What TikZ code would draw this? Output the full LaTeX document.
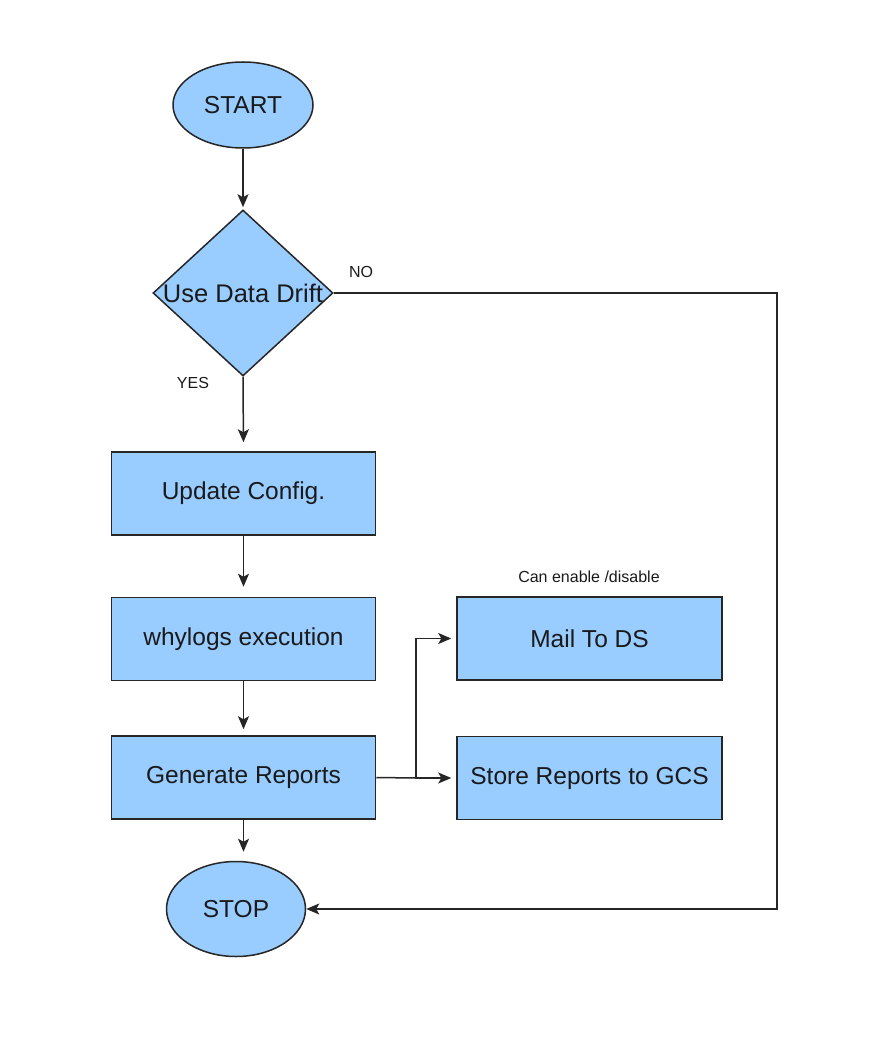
\documentclass[tikz,border=0pt]{standalone}
\usepackage{fontspec}
\setmainfont{Liberation Sans}
\usetikzlibrary{shapes.geometric,arrows.meta}
\definecolor{boxfill}{HTML}{99CCFF}
\definecolor{edgecol}{HTML}{262626}
\definecolor{txtcol}{HTML}{1A1A1A}
\tikzset{
  base/.style={draw=edgecol, line width=1.5pt, fill=boxfill, text=txtcol, font=\fontsize{24.5}{28}\selectfont, inner sep=0pt},
  terminal/.style={base, ellipse},
  decision/.style={base, diamond, minimum width=180pt, minimum height=166pt},
  procbox/.style={base, rectangle, minimum width=264pt, minimum height=83pt},
  conn/.style={draw=edgecol, line width=1.5pt, -{Stealth[length=13pt,width=11pt,inset=3pt]}},
  plainconn/.style={draw=edgecol, line width=1.5pt},
  lbl/.style={text=txtcol, font=\fontsize{16}{19}\selectfont, inner sep=0pt}
}
\begin{document}
\begin{tikzpicture}[x=1pt,y=-1pt]
\useasboundingbox[fill=white] (0,0) rectangle (895,1056);

\node[terminal, minimum width=140pt, minimum height=86pt] (start) at (243,105) {START};
\node[decision] (drift) at (243,293) {\makebox[0pt]{\fontsize{25.5}{29}\selectfont Use Data Drift}};
\node[procbox] (update) at (243.5,493.5) {Update Config.};
\node[procbox] (why) at (243.5,639) {whylogs execution};
\node[procbox] (gen) at (243.5,777.5) {Generate Reports};
\node[procbox, minimum width=265pt] (mail) at (589.5,638.5) {Mail To DS};
\node[procbox, minimum width=265pt] (store) at (589.5,778) {Store Reports to GCS};
\node[terminal, minimum width=139pt, minimum height=95pt] (stop) at (236,909) {STOP};

\node[lbl] (nolbl) at (361,272) {NO};
\node[lbl] (yeslbl) at (193,383) {YES};
\node[lbl] (canlbl) at (589,577) {Can enable /disable};

\coordinate (junc) at (416,778);
\coordinate (nocorner) at (777,293);

\draw[conn, shorten >=2pt] (start.south) -- (drift.north);
\draw[conn, shorten >=9pt] (drift.south) -- (update.north);
\draw[conn, shorten >=10pt] (update.south) -- (why.north);
\draw[conn, shorten >=6pt] (why.south) -- (gen.north);
\draw[conn, shorten >=9pt] (gen.south) -- (gen.south |- stop.north);
\draw[plainconn] (gen.east) -- (junc);
\draw[conn, shorten >=5pt] (junc) -- (store.west);
\draw[conn, shorten >=5pt] (junc) |- (mail.west);
\draw[conn] (drift.east) -- (nocorner) |- (stop.east);
\end{tikzpicture}
\end{document}
